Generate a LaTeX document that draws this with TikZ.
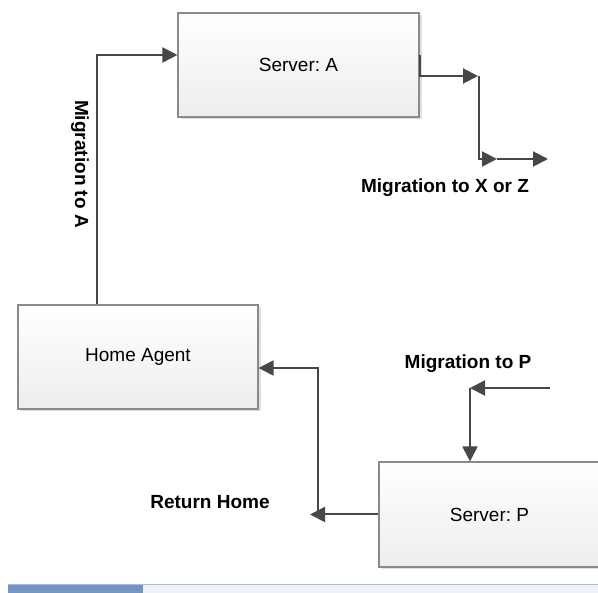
\documentclass[tikz,border=0pt]{standalone}
\usepackage{fontspec}
\setmainfont{Liberation Sans}
\frenchspacing
\usetikzlibrary{arrows.meta,shadows}
\definecolor{linec}{HTML}{474747}
\definecolor{boxline}{HTML}{8A8A8A}
\definecolor{bardark}{HTML}{7494C2}
\definecolor{barlight}{HTML}{EEF1F5}
\definecolor{barline}{HTML}{A9BDDB}
\begin{document}
\begin{tikzpicture}[x=1pt,y=-1pt,
  box/.style={draw=boxline, line width=1.1pt, rectangle, inner sep=0pt,
    top color=white, bottom color=black!7,
    drop shadow={shadow xshift=2.5pt, shadow yshift=-2.5pt, fill=black!12, opacity=1},
    font=\fontsize{19}{22}\selectfont},
  conn/.style={draw=linec, line width=2pt, -{Triangle[length=15pt,width=15pt]}},
  lbl/.style={font=\fontsize{19}{22}\selectfont\bfseries, inner sep=0pt}]
\useasboundingbox (0,0) rectangle (598,593);
% boxes
\node[box, minimum width=241pt, minimum height=104pt] (sa) at (298.5,65) {Server: A};
\node[box, minimum width=240pt, minimum height=104pt] (ha) at (138,357) {Home Agent};
\node[box, minimum width=221pt, minimum height=105pt] (sp) at (489.5,514.5) {Server: P};
% coordinates
\coordinate (bendA) at (97,55);
\coordinate (xa) at (419,55);
\coordinate (xb) at (478,76);
\coordinate (xc) at (479,76);
\coordinate (xd) at (497,159);
\coordinate (xe) at (548,159);
\coordinate (rh) at (310,514.5);
\coordinate (rv) at (318,511);
\coordinate (hh) at (0,368);
\coordinate (p0) at (550,388);
\coordinate (p1) at (470,388);
% connectors
\draw[conn] (ha.north -| bendA) -- (bendA) -- (bendA -| sa.west);
\draw[conn] (sa.east |- xa) |- (xb);
\draw[conn] (xc) |- (xd);
\draw[conn] (xd) -- (xe);
\draw[conn] (sp.west) -- (rh);
\draw[conn] (rv) |- (ha.east |- hh);
\draw[conn] (p0) -- (p1);
\draw[conn] (p1) -- (p1 |- sp.north);
% labels
\node[lbl, rotate=-90] (lA) at (80,164) {Migration to A};
\node[lbl] (lXZ) at (445,188) {Migration to X or Z};
\node[lbl] (lR) at (210,502) {Return Home};
\node[lbl] (lP) at (468,364) {Migration to P};
% bottom bar
\fill[barlight] (8,584) rectangle (598,593);
\fill[bardark] (8,584) rectangle (143,593);
\draw[barline, line width=1pt] (8,584.5) -- (598,584.5);
\end{tikzpicture}
\end{document}
